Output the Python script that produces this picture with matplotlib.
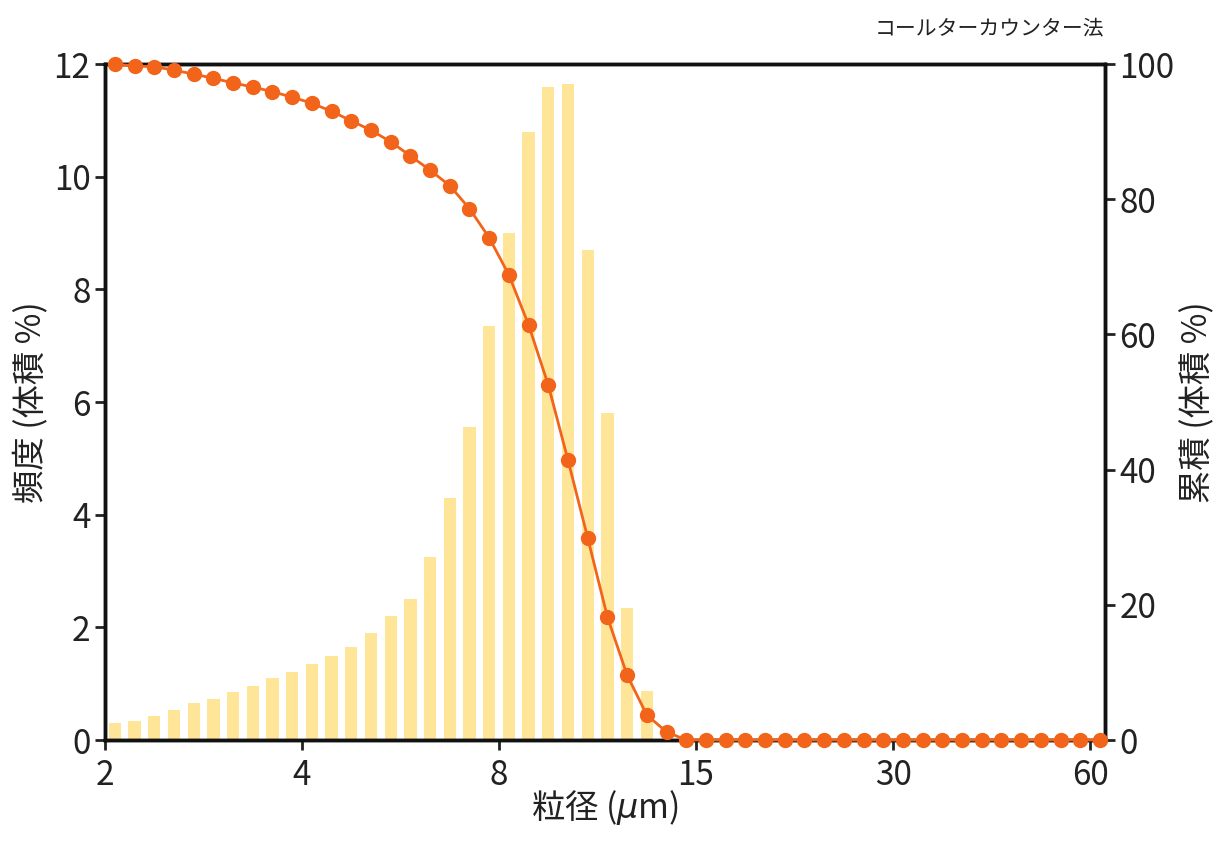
import numpy as np
import matplotlib.pyplot as plt

plt.rcParams['font.family'] = ['Noto Sans CJK JP', 'DejaVu Sans']

# bin centres: 10 bins per doubling starting at 2 um
n_bins = 51
sizes = 2 * 2 ** ((np.arange(n_bins) + 0.5) / 10)

freq_nonzero = [0.3, 0.33, 0.42, 0.53, 0.65, 0.73, 0.85, 0.95, 1.1, 1.2,
                1.35, 1.5, 1.65, 1.9, 2.2, 2.5, 3.25, 4.3, 5.55, 7.35,
                9.0, 10.8, 11.6, 11.65, 8.7, 5.8, 2.35, 0.87]
frequency = np.array(freq_nonzero + [0.0] * (n_bins - len(freq_nonzero)))

cum_nonzero = [100, 99.7, 99.6, 99.1, 98.5, 97.9, 97.2, 96.6, 95.9, 95.1,
               94.2, 93.0, 91.6, 90.2, 88.5, 86.4, 84.3, 82.0, 78.6, 74.3,
               68.8, 61.4, 52.5, 41.4, 29.9, 18.2, 9.6, 3.7, 1.2]
cumulative = np.array(cum_nonzero + [0.0] * (n_bins - len(cum_nonzero)))

tick_pos = [2, 4, 8, 16, 32, 64]
tick_labels = ['2', '4', '8', '15', '30', '60']

fig = plt.figure(figsize=(12.3, 8.65), dpi=100)
ax = fig.add_axes([0.0854, 0.1445, 0.8130, 0.7815])
ax.set_xscale('log', base=2)

left = sizes * 2 ** -0.031
width = sizes * 2 ** 0.031 - left
ax.bar(left, frequency, width=width, align='edge', color='#FFE597', zorder=1)
ax.set_xlim(2, 2 * 2 ** 5.076)
ax.set_ylim(0, 12)
ax.set_xticks(tick_pos)
ax.set_xticklabels(tick_labels)
ax.minorticks_off()
ax.set_yticks(range(0, 13, 2))

ax2 = ax.twinx()
ax2.plot(sizes, cumulative, color='#F26419', lw=2, marker='o', ms=10,
         clip_on=False, zorder=3)
ax2.set_ylim(0, 100)
ax2.set_yticks(range(0, 101, 20))

for a in (ax, ax2):
    for s in a.spines.values():
        s.set_linewidth(2.5)
        s.set_color('#111111')
    a.tick_params(labelsize=24, width=2, length=7, colors='#222222')

ax.tick_params(axis='x', pad=6)
ax.set_xlabel('粒径 ($\\mu$m)', fontsize=24, labelpad=-4, color='#222222')
ax.set_ylabel('頻度 (体積 %)', fontsize=24, color='#222222')
ax2.set_ylabel('累積 (体積 %)', fontsize=24, color='#222222', rotation=90)
fig.text(0.898, 0.955, 'コールターカウンター法', ha='right', va='bottom',
         fontsize=15, color='#222222')

fig.savefig('out.png', dpi=100)
